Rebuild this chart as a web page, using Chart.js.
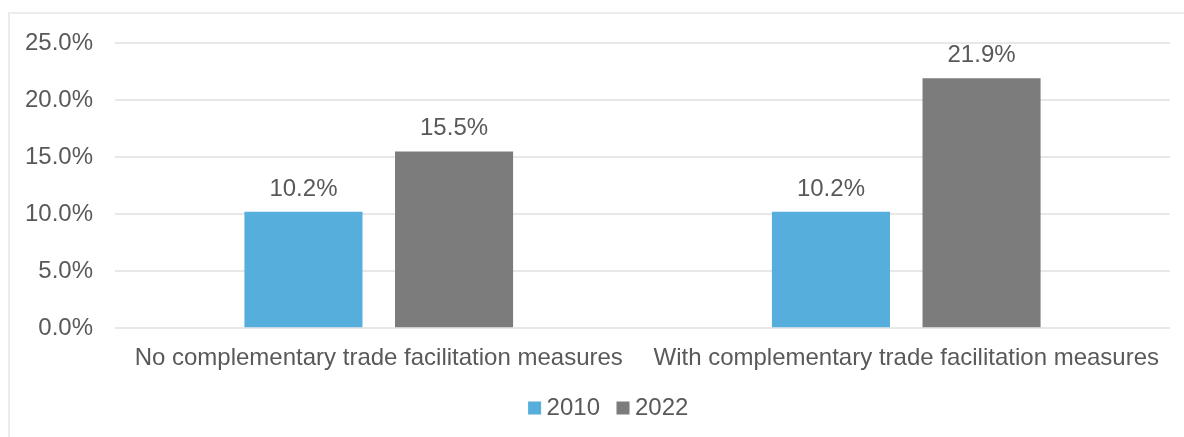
<!DOCTYPE html>
<html>
<head>
<meta charset="utf-8">
<script src="https://cdn.jsdelivr.net/npm/chart.js@4"></script>
<style>
    html, body { margin: 0; padding: 0; background: #fff; overflow: hidden; }
    #wrap { position: relative; width: 1184px; height: 437px; }
    #frame { position: absolute; left: 8px; top: 12px; width: 1220px; height: 470px; border: 2px solid #ececec; box-sizing: border-box; }
    #chart { position: absolute; left: 0; top: 0; }
</style>
</head>
<body>
<div id="wrap">
    <div id="frame"></div>
    <canvas id="chart" width="1184" height="437"></canvas>
</div>
<script>
const categories = ['No complementary trade facilitation measures', 'With complementary trade facilitation measures'];
const seriesNames = ['2010', '2022'];
const values2010 = [10.2, 10.2];
const values2022 = [15.5, 21.9];
const yMin = 0;
const yMax = 25;
const yStep = 5;

const textColor = '#595959';
const fontFamily = '"Liberation Sans", Arial, sans-serif';
const fontSize = 24;

// Draws the value above each bar, using the bar positions from the library
const barLabels = {
    id: 'barLabels',
    afterDatasetsDraw(chart) {
        const ctx = chart.ctx;
        ctx.save();
        ctx.font = fontSize + 'px ' + fontFamily;
        ctx.fillStyle = textColor;
        ctx.textAlign = 'center';
        ctx.textBaseline = 'alphabetic';
        chart.data.datasets.forEach((ds, i) => {
            chart.getDatasetMeta(i).data.forEach((bar, j) => {
                ctx.fillText(ds.data[j].toFixed(1) + '%', bar.x, bar.y - 16);
            });
        });
        ctx.restore();
    }
};

new Chart(document.getElementById('chart'), {
    type: 'bar',
    data: {
        labels: categories,
        datasets: [{
            label: seriesNames[0],
            data: values2010,
            backgroundColor: '#56AEDC',
            categoryPercentage: 0.571,
            barPercentage: 0.784
        }, {
            label: seriesNames[1],
            data: values2022,
            backgroundColor: '#7B7C7B',
            categoryPercentage: 0.571,
            barPercentage: 0.784
        }]
    },
    options: {
        responsive: false,
        animation: false,
        devicePixelRatio: 1,
        layout: {
            // left padding also shifts the centred legend to where it sits in the original
            padding: { top: 43, right: 14, bottom: 7, left: 53 }
        },
        plugins: {
            tooltip: { enabled: false },
            legend: {
                position: 'bottom',
                labels: {
                    usePointStyle: true,
                    pointStyle: 'rect',
                    boxWidth: 0.01,   // keeps the text close to the square
                    boxHeight: 13,
                    padding: 23,
                    color: textColor,
                    font: { family: fontFamily, size: fontSize }
                }
            }
        },
        scales: {
            x: {
                grid: { display: false },
                border: { display: false },
                ticks: {
                    color: textColor,
                    padding: 8,
                    maxRotation: 0,
                    font: { family: fontFamily, size: fontSize }
                },
                afterFit: scale => { scale.height -= 8; }
            },
            y: {
                min: yMin,
                max: yMax,
                border: { display: false },
                grid: { color: '#e8e8e8', lineWidth: 2, drawTicks: false },
                ticks: {
                    stepSize: yStep,
                    // mirrored so the labels are not clipped to the narrow axis box
                    mirror: true,
                    crossAlign: 'far',
                    padding: -90,
                    color: textColor,
                    font: { family: fontFamily, size: fontSize },
                    callback: v => v.toFixed(1) + '%'
                },
                afterFit: scale => { scale.width = 62; }
            }
        }
    },
    plugins: [barLabels]
});
</script>
</body>
</html>
